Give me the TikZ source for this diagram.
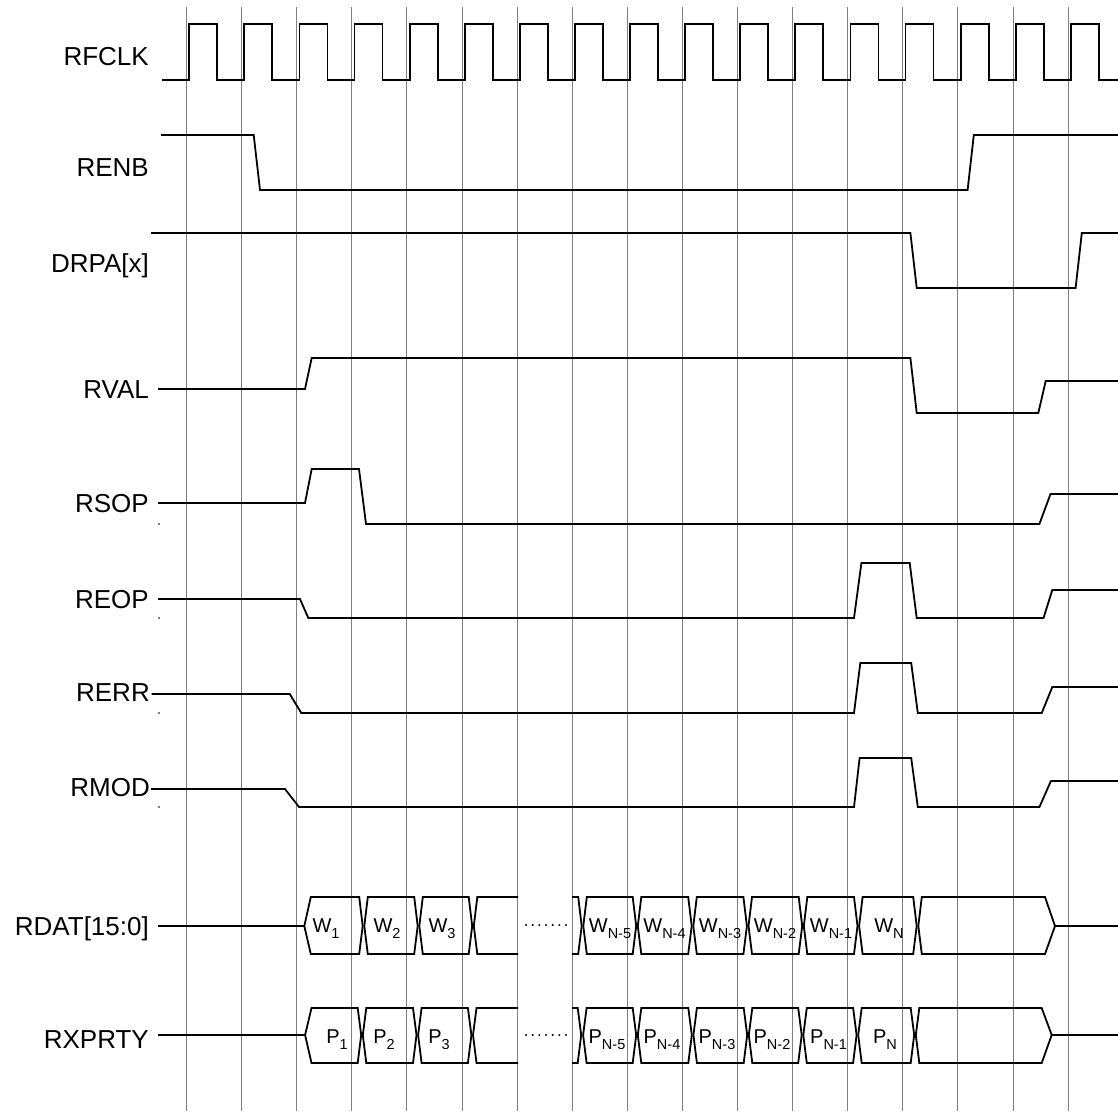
\documentclass[tikz,border=0pt]{standalone}
\usepackage{fontspec}
\setmainfont{Liberation Sans}
\definecolor{gridgray}{RGB}{128,128,128}
\newcommand\bsub[2]{{\fontsize{20}{20}\selectfont #1}\raisebox{-6pt}{\fontsize{14.5}{14.5}\selectfont #2}}
\newcommand\tdbox[7]{\draw[sig] ({#1+0.8},#5) -- ({#1+0.8+#6},#3) -- ({#2-0.8-#7},#3) -- ({#2-0.8},#5) -- ({#2-0.8-#7},#4) -- ({#1+0.8+#6},#4) -- cycle;}
\begin{document}
\begin{tikzpicture}[x=1pt,y=-1pt,
  sig/.style={line width=1.8pt, line join=miter},
  gridl/.style={line width=1pt, draw=gridgray},
  lbl/.style={font=\fontsize{26}{26}\selectfont, inner sep=0pt, anchor=base east},
  btext/.style={inner sep=0pt, anchor=base},
  tick/.style={fill=black}]
\useasboundingbox (0,0) rectangle (1118,1111);
\fill[white] (0,0) rectangle (1118,1111);
% grid lines
\foreach \i in {0,...,16} \draw[gridl] ({186.5+55.1*\i},7) -- ({186.5+55.1*\i},1111);
% labels
\node[lbl] (lclk) at (149,65) {RFCLK};
\node[lbl] (lrenb) at (149,176) {RENB};
\node[lbl] (ldrpa) at (149,272) {DRPA[x]};
\node[lbl] (lrval) at (149,398) {RVAL};
\node[lbl] (lrsop) at (149,512) {RSOP};
\node[lbl] (lreop) at (149,608) {REOP};
\node[lbl] (lrerr) at (150,701) {RERR};
\node[lbl] (lrmod) at (150,796) {RMOD};
\node[lbl] (lrdat) at (149,935) {RDAT[15:0]};
\node[lbl] (lrxp) at (149,1048) {RXPRTY};
% clock
\draw[sig] (162,80) \foreach \i in {0,...,16} { -- ({189.2+55.1*\i},80) -- ({189.2+55.1*\i},24) -- ({217.2+55.1*\i},24) -- ({217.2+55.1*\i},80) } -- (1118,80);
% RENB
\draw[sig] (161,135) -- (253.7,135) -- (260,190) -- (967.6,190) -- (973.8,135) -- (1118,135);
% DRPA
\draw[sig] (151,233) -- (910.4,233) -- (916.7,288) -- (1075.6,288) -- (1081.8,233) -- (1118,233);
% RVAL
\draw[sig] (158,389) -- (305,389) -- (311.7,358) -- (910.4,358) -- (916.7,413) -- (1038.3,413) -- (1045.7,381) -- (1118,381);
% RSOP
\draw[sig] (158,503) -- (305,503) -- (311.7,469) -- (359,469) -- (366,524) -- (1039.4,524) -- (1050.5,494) -- (1118,494);
% REOP
\draw[sig] (158,599) -- (300,599) -- (308.3,618) -- (854,618) -- (861.4,563) -- (909.7,563) -- (916.7,618) -- (1043.5,618) -- (1052.3,590) -- (1118,590);
% RERR
\draw[sig] (151.7,694) -- (289.7,694) -- (301.3,713) -- (854,713) -- (860.3,663) -- (911.2,663) -- (917.8,713) -- (1041.7,713) -- (1052.3,687) -- (1118,687);
% RMOD
\draw[sig] (151,789) -- (285,789) -- (299,807) -- (854,807) -- (859.6,758) -- (911.2,758) -- (917.8,807) -- (1039.4,807) -- (1050.9,781) -- (1118,781);
% tiny marks
\foreach \yy in {524,618,713,807} \fill[tick] (159,\yy) circle (0.9pt);
% RDAT bus
\draw[sig] (158,926) -- (304.3,926);
\foreach \a/\b/\dl/\dr in {303.5/363.5/6.5/3.5, 363.5/418.5/3.5/3.5, 418.5/473/3.5/3.5,
  582.5/637/3.5/3.5, 637/692.5/3.5/3.5, 692.5/747.7/3.5/3.5, 747.7/803/3.5/3.5,
  803/858.3/3.5/3.5, 858.3/917.5/3.5/3.5, 917.5/1055.8/3.5/10}
  \tdbox{\a}{\b}{897}{954}{926}{\dl}{\dr};
\draw[sig] (518,897) -- (477.3,897) -- (473.8,926) -- (477.3,954) -- (518,954);
\draw[sig] (572,897) -- (578.2,897) -- (581.7,926) -- (578.2,954) -- (572,954);
\draw[sig] (1055,926) -- (1118,926);
\foreach \i in {0,...,6} \fill ({526+6.67*\i},925) circle (1.1pt);
% RXPRTY bus
\draw[sig] (158,1035) -- (305,1035);
\foreach \a/\b/\dl/\dr in {304.3/362/6.4/3.5, 362/417.3/3.5/3.5, 417.3/472.2/3.5/3.5,
  582.3/637/3.5/3.5, 637/692.6/3.5/3.5, 692.6/748/3.5/3.5, 748/802.5/3.5/3.5,
  802.5/857.4/3.5/3.5, 857.4/915/3.5/3.5, 915/1052.5/3.5/10}
  \tdbox{\a}{\b}{1008}{1063}{1035}{\dl}{\dr};
\draw[sig] (518,1008) -- (476.5,1008) -- (473,1035) -- (476.5,1063) -- (518,1063);
\draw[sig] (572,1008) -- (577.7,1008) -- (581.2,1035) -- (577.7,1063) -- (572,1063);
\draw[sig] (1052,1035) -- (1118,1035);
\foreach \i in {0,...,6} \fill ({526+6.67*\i},1035) circle (1.1pt);
% bus texts
\node[btext] (w1) at (326,932) {\bsub{W}{1}};
\node[btext] (w2) at (387,932) {\bsub{W}{2}};
\node[btext] (w3) at (442,932) {\bsub{W}{3}};
\node[btext] (w5) at (610,932) {\bsub{W}{N-5}};
\node[btext] (w4) at (664.5,932) {\bsub{W}{N-4}};
\node[btext] (w3b) at (720,932) {\bsub{W}{N-3}};
\node[btext] (w2b) at (775,932) {\bsub{W}{N-2}};
\node[btext] (w1b) at (831,932) {\bsub{W}{N-1}};
\node[btext] (wn) at (889,932) {\bsub{W}{N}};
\node[btext] (p1) at (337,1043) {\bsub{P}{1}};
\node[btext] (p2) at (384,1043) {\bsub{P}{2}};
\node[btext] (p3) at (439,1043) {\bsub{P}{3}};
\node[btext] (p5) at (607,1043) {\bsub{P}{N-5}};
\node[btext] (p4) at (662,1043) {\bsub{P}{N-4}};
\node[btext] (p3b) at (717,1043) {\bsub{P}{N-3}};
\node[btext] (p2b) at (772,1043) {\bsub{P}{N-2}};
\node[btext] (p1b) at (828.5,1043) {\bsub{P}{N-1}};
\node[btext] (pn) at (885,1043) {\bsub{P}{N}};
\end{tikzpicture}
\end{document}
